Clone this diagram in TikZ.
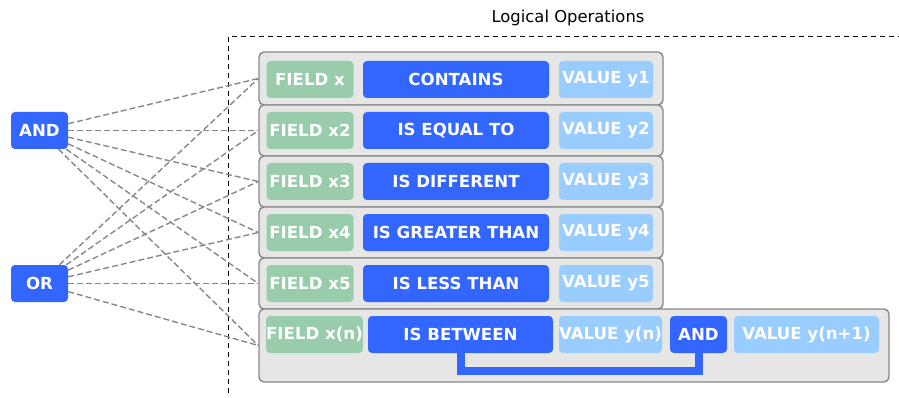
\documentclass[tikz,border=0pt]{standalone}
\usepackage{fontspec}
\setmainfont{DejaVu Sans}
\usepackage{tikz}

\definecolor{opblue}{HTML}{3366FF}
\definecolor{fieldgreen}{HTML}{99CCAA}
\definecolor{valblue}{HTML}{99CCFF}
\definecolor{rowgray}{HTML}{E6E6E6}
\definecolor{rowline}{HTML}{888888}

\begin{document}
\begin{tikzpicture}[x=1pt,y=-1pt,
  every node/.style={rounded corners=4pt,inner sep=0pt,minimum height=37pt,text=white,font=\fontsize{16.6}{19}\selectfont\bfseries},
  row/.style={draw=rowline,fill=rowgray,line width=1.4pt,rounded corners=5pt,minimum height=51pt},
  fld/.style={fill=fieldgreen,minimum width=87pt},
  op/.style={fill=opblue,minimum width=186pt},
  val/.style={fill=valblue,minimum width=94pt},
  link/.style={draw=rowline,line width=1.4pt,dash pattern=on 6pt off 3pt}]
\useasboundingbox (0,0) rectangle (899,398);
\node[font=\fontsize{16.4}{19}\selectfont,text=black] (title) at (568,18) {Logical Operations};
\draw[line width=1.5pt,dash pattern=on 5pt off 4pt] (228.5,393) -- (228.5,36.5) -- (899,36.5);
% condition rows
\node[row,minimum width=404pt,minimum height=53pt] (r1) at (461,78.5) {};
\node[row,minimum width=404pt] (r2) at (461,130.5) {};
\node[row,minimum width=404pt] (r3) at (461,181.5) {};
\node[row,minimum width=404pt] (r4) at (461,232.5) {};
\node[row,minimum width=404pt] (r5) at (461,283.5) {};
\node[row,minimum width=630pt,minimum height=73pt] (r6) at (574,345.5) {};
\node[fld] (f1) at (310,79.5) {FIELD x}; \node[op] (o1) at (456,79.5) {CONTAINS}; \node[val] (v1) at (606,79.5) {VALUE y1};
\node[fld] (f2) at (310,130.5) {FIELD x2}; \node[op] (o2) at (456,130.5) {IS EQUAL TO}; \node[val] (v2) at (606,130.5) {VALUE y2};
\node[fld] (f3) at (310,181.5) {FIELD x3}; \node[op] (o3) at (456,181.5) {IS DIFFERENT}; \node[val] (v3) at (606,181.5) {VALUE y3};
\node[fld] (f4) at (310,232.5) {FIELD x4}; \node[op] (o4) at (456,232.5) {IS GREATER THAN}; \node[val] (v4) at (606,232.5) {VALUE y4};
\node[fld] (f5) at (310,283.5) {FIELD x5}; \node[op] (o5) at (456,283.5) {IS LESS THAN}; \node[val] (v5) at (606,283.5) {VALUE y5};
\node[fld,minimum width=95pt] (f6) at (314.5,334.5) {FIELD x(n)}; \node[op,minimum width=185pt] (o6) at (460.5,334.5) {IS BETWEEN};
\node[val,minimum width=103pt] (v6) at (610.5,334.5) {VALUE y(n)}; \node[fill=opblue,minimum width=57pt] (a6) at (698.5,334.5) {AND};
\node[val,minimum width=145pt] (w6) at (806.5,334.5) {VALUE y(n+1)};
\draw[opblue,line width=8pt] (o6.south) -- ++(0,18) -| (a6.south);
% logic nodes
\node[fill=opblue,minimum width=57pt] (and) at (39.5,130.5) {AND};
\node[fill=opblue,minimum width=57pt] (or) at (39.5,283.5) {OR};
\draw[link] (and) -- (r1.west); \draw[link] (and) -- (r2.west);
\draw[link] (and) -- (r3.west); \draw[link] (and) -- (r4.west);
\draw[link] (and) -- (r5.west); \draw[link] (and) -- (r6.west);
\draw[link] (or) -- (r1.west); \draw[link] (or) -- (r2.west);
\draw[link] (or) -- (r3.west); \draw[link] (or) -- (r4.west);
\draw[link] (or) -- (r5.west); \draw[link] (or) -- (r6.west);
\end{tikzpicture}
\end{document}
